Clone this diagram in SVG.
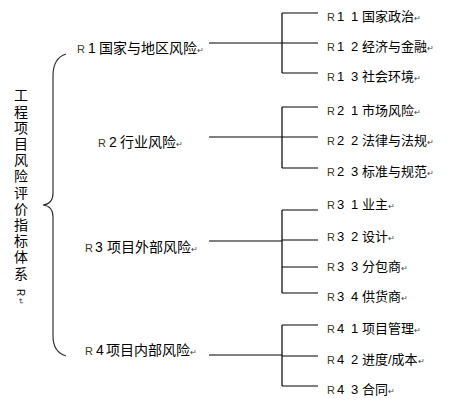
<svg xmlns="http://www.w3.org/2000/svg" width="451" height="408" viewBox="0 0 451 408">
<style>
.t{font-family:"Liberation Sans","Noto Sans CJK SC",sans-serif;fill:#000}
.l1{font-size:14px}
.l2{font-size:13px}
.r{font-size:11px;fill:#3a3a20}
.pm{font-size:8px;fill:#444}
.ln{stroke:#000;stroke-width:1.2;fill:none}
.br{stroke:#333;stroke-width:1.2;fill:none}
</style>
<rect width="451" height="408" fill="#fff"/>
<g id="title">
<text class="t" x="20" y="88" style="writing-mode:vertical-rl;font-size:14px;letter-spacing:2.2px">工程项目风险评价指标体系 <tspan style="font-size:10px">R</tspan><tspan class="pm">↵</tspan></text>
</g>
<g id="connectors">
<path class="br" d="M66,54 Q53,58 53,76 L53,193 Q53,204 43,205 Q53,206 53,217 L53,336 Q53,352 66,356"/>
<path class="ln" d="M209,43H282M282,13V73M282,13H318M282,43H318M282,73H318"/>
<path class="ln" d="M209,137H282M282,107V168M282,107H318M282,137H318M282,168H318"/>
<path class="ln" d="M209,241H282M282,210V293M282,210H318M282,240H318M282,267H318M282,293H318"/>
<path class="ln" d="M209,355H282M282,325V386M282,325H318M282,356H318M282,386H318"/>
</g>
<g id="R1">
<text class="t l1" y="53"><tspan class="r" x="77">R</tspan><tspan x="88">1</tspan><tspan x="99">国家与地区风险</tspan><tspan class="pm">↵</tspan></text>
</g>
<g id="R2">
<text class="t l1" y="147"><tspan class="r" x="98">R</tspan><tspan x="109">2</tspan><tspan x="120">行业风险</tspan><tspan class="pm">↵</tspan></text>
</g>
<g id="R3">
<text class="t l1" y="252"><tspan class="r" x="85">R</tspan><tspan x="95">3</tspan><tspan x="107">项目外部风险</tspan><tspan class="pm">↵</tspan></text>
</g>
<g id="R4">
<text class="t l1" y="355"><tspan class="r" x="85">R</tspan><tspan x="96">4</tspan><tspan x="106">项目内部风险</tspan><tspan class="pm">↵</tspan></text>
</g>
<g id="R11"><text class="t l2" y="21"><tspan class="r" x="327">R</tspan><tspan x="337">1</tspan><tspan x="351">1</tspan><tspan x="362">国家政治</tspan><tspan class="pm">↵</tspan></text></g>
<g id="R12"><text class="t l2" y="51"><tspan class="r" x="327">R</tspan><tspan x="337">1</tspan><tspan x="351">2</tspan><tspan x="362">经济与金融</tspan><tspan class="pm">↵</tspan></text></g>
<g id="R13"><text class="t l2" y="81"><tspan class="r" x="327">R</tspan><tspan x="337">1</tspan><tspan x="351">3</tspan><tspan x="362">社会环境</tspan><tspan class="pm">↵</tspan></text></g>
<g id="R21"><text class="t l2" y="115"><tspan class="r" x="327">R</tspan><tspan x="337">2</tspan><tspan x="351">1</tspan><tspan x="362">市场风险</tspan><tspan class="pm">↵</tspan></text></g>
<g id="R22"><text class="t l2" y="145"><tspan class="r" x="327">R</tspan><tspan x="337">2</tspan><tspan x="351">2</tspan><tspan x="362">法律与法规</tspan><tspan class="pm">↵</tspan></text></g>
<g id="R23"><text class="t l2" y="176"><tspan class="r" x="327">R</tspan><tspan x="337">2</tspan><tspan x="351">3</tspan><tspan x="362">标准与规范</tspan><tspan class="pm">↵</tspan></text></g>
<g id="R31"><text class="t l2" y="209"><tspan class="r" x="327">R</tspan><tspan x="337">3</tspan><tspan x="351">1</tspan><tspan x="362">业主</tspan><tspan class="pm">↵</tspan></text></g>
<g id="R32"><text class="t l2" y="241"><tspan class="r" x="327">R</tspan><tspan x="337">3</tspan><tspan x="351">2</tspan><tspan x="362">设计</tspan><tspan class="pm">↵</tspan></text></g>
<g id="R33"><text class="t l2" y="271"><tspan class="r" x="327">R</tspan><tspan x="337">3</tspan><tspan x="351">3</tspan><tspan x="362">分包商</tspan><tspan class="pm">↵</tspan></text></g>
<g id="R34"><text class="t l2" y="301"><tspan class="r" x="327">R</tspan><tspan x="337">3</tspan><tspan x="351">4</tspan><tspan x="362">供货商</tspan><tspan class="pm">↵</tspan></text></g>
<g id="R41"><text class="t l2" y="333"><tspan class="r" x="327">R</tspan><tspan x="337">4</tspan><tspan x="351">1</tspan><tspan x="362">项目管理</tspan><tspan class="pm">↵</tspan></text></g>
<g id="R42"><text class="t l2" y="364"><tspan class="r" x="327">R</tspan><tspan x="337">4</tspan><tspan x="351">2</tspan><tspan x="362">进度/成本</tspan><tspan class="pm">↵</tspan></text></g>
<g id="R43"><text class="t l2" y="394"><tspan class="r" x="327">R</tspan><tspan x="337">4</tspan><tspan x="351">3</tspan><tspan x="362">合同</tspan><tspan class="pm">↵</tspan></text></g>
</svg>
